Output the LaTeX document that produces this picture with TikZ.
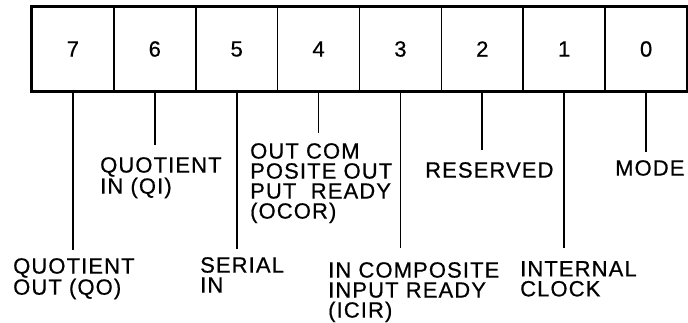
\documentclass[tikz,border=0pt]{standalone}
\usepackage{fontspec}
\setmainfont{Liberation Sans}[LetterSpace=5,FakeBold=0.6]
\usepackage{tikz}

\begin{document}
\begin{tikzpicture}[x=1pt,y=-1pt,
  bitcell/.style={draw,line width=1.5pt,minimum width=81.875pt,minimum height=84pt,
    inner sep=0pt,font=\fontsize{22}{20}\selectfont},
  lbl/.style={anchor=north west,inner sep=0pt,align=left,font=\fontsize{22}{20}\selectfont},
  lead/.style={line width=1.7pt}]
\useasboundingbox (0,0) rectangle (688,322);

% register bits
\node[bitcell] (b7) at (72.9,49) {7};
\node[bitcell] (b6) at (154.8,49) {6};
\node[bitcell] (b5) at (236.7,49) {5};
\node[bitcell] (b4) at (318.6,49) {4};
\node[bitcell] (b3) at (400.4,49) {3};
\node[bitcell] (b2) at (482.3,49) {2};
\node[bitcell] (b1) at (564.2,49) {1};
\node[bitcell] (b0) at (646.1,49) {0};
\draw[line width=2.4pt] (b7.north west) rectangle (b0.south east);

% labels
\node[lbl] (qo) at (13,258) {QUOTIENT\\OUT (QO)};
\node[lbl] (qi) at (100,157) {QUOTIENT\\IN (QI)};
\node[lbl] (si) at (200,257) {SERIAL\\IN};
\node[lbl] (ocor) at (250,143) {OUT COM\\POSITE OUT\\PUT\ \ READY\\(OCOR)};
\node[lbl] (icir) at (328,262) {IN COMPOSITE\\INPUT READY\\(ICIR)};
\node[lbl] (res) at (425,162) {RESERVED};
\node[lbl] (ic) at (520,261) {INTERNAL\\CLOCK};
\node[lbl] (mode) at (615,160) {MODE};

% leads
\coordinate (e7) at (72.9,250);
\coordinate (e6) at (154.8,145);
\coordinate (e5) at (236.7,249);
\coordinate (e4) at (318.6,133);
\coordinate (e3) at (400.4,248);
\coordinate (e2) at (482.3,150);
\coordinate (e1) at (564.2,248);
\coordinate (e0) at (646.1,152);
\draw[lead] (b7.south) -- (e7);
\draw[lead] (b6.south) -- (e6);
\draw[lead] (b5.south) -- (e5);
\draw[lead] (b4.south) -- (e4);
\draw[lead] (b3.south) -- (e3);
\draw[lead] (b2.south) -- (e2);
\draw[lead] (b1.south) -- (e1);
\draw[lead] (b0.south) -- (e0);

\end{tikzpicture}
\end{document}
